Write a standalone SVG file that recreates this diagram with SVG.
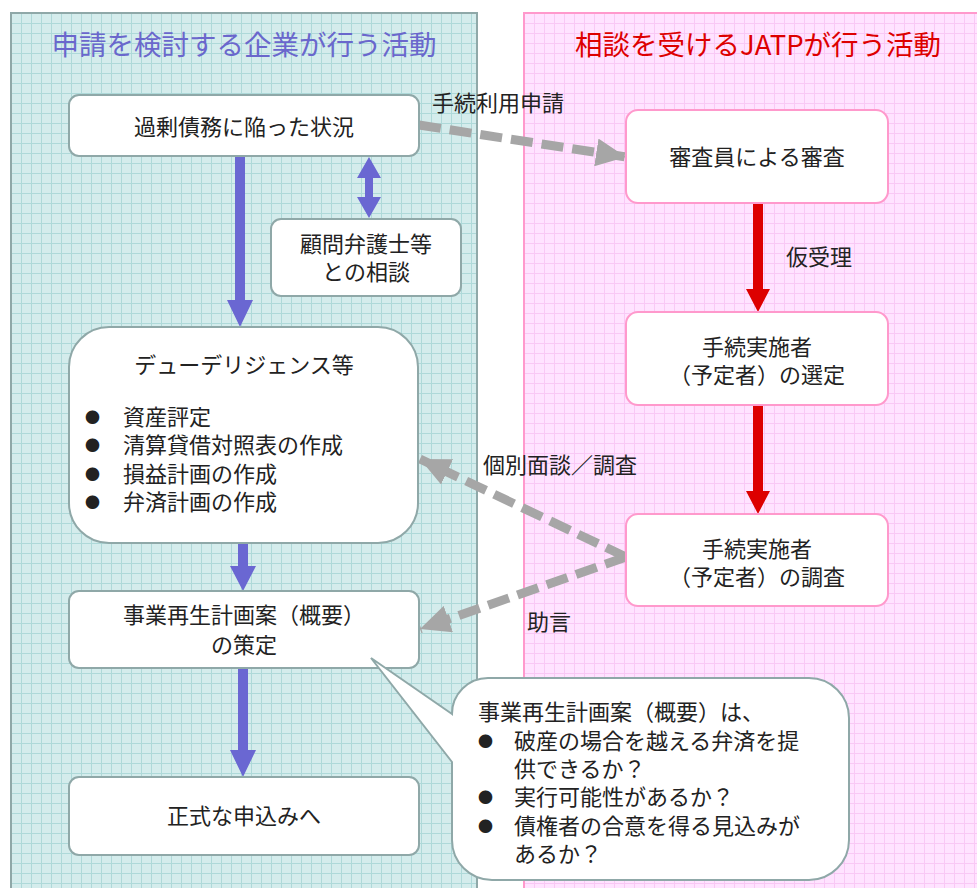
<svg xmlns="http://www.w3.org/2000/svg" width="977" height="888" viewBox="0 0 977 888">
<defs>
<pattern id="gridL" width="10" height="10" patternUnits="userSpaceOnUse" x="11" y="13">
<rect width="10" height="10" fill="#d4ecec"/>
<path d="M0,0.5 H10 M0.5,0 V10" stroke="#aed9d9" stroke-width="1" fill="none"/>
</pattern>
<pattern id="gridR" width="10" height="10" patternUnits="userSpaceOnUse" x="524" y="13">
<rect width="10" height="10" fill="#ffe3ff"/>
<path d="M0,0.5 H10 M0.5,0 V10" stroke="#f9c8f5" stroke-width="1" fill="none"/>
</pattern>
<marker id="grayHead" markerUnits="userSpaceOnUse" markerWidth="32" markerHeight="28" refX="30" refY="14" orient="auto">
<path d="M0,0 L30,14 L0,28 Z" fill="#a6a6a6"/>
</marker>
</defs>
<style>
.panelL{fill:url(#gridL);stroke:#8fa8a8;stroke-width:2}
.panelR{fill:url(#gridR);stroke:#ff99cc;stroke-width:2}
.nodeL{fill:#ffffff;stroke:#8fa8a8;stroke-width:2}
.nodeR{fill:#ffffff;stroke:#ff99cc;stroke-width:2}
text{font-family:"Noto Sans CJK JP","Noto Sans CJK SC",sans-serif;font-size:22px;fill:#222222}
.c{text-anchor:middle}
.b{font-size:15px}
.hL{font-size:27.5px;fill:#6a67cc}
.hR{font-size:27.5px;fill:#dd0000}
.dash{stroke:#a6a6a6;stroke-width:9;stroke-dasharray:22 9;fill:none}
.blue{fill:#6a67d2}
.red{fill:#dd0000}
</style>
<g id="panels">
<rect class="panelL" x="11" y="13" width="466" height="885"/>
<rect class="panelR" x="524" y="13" width="465" height="885"/>
<text class="hL c" x="244" y="55">申請を検討する企業が行う活動</text>
<text class="hR c" x="758" y="55">相談を受けるJATPが行う活動</text>
</g>
<g id="connectors">
<polygon class="blue" points="235,157 245,157 245,300 253,300 240,327 227,300 235,300"/>
<polygon class="blue" points="369,157 381,178 373,178 373,197 381,197 369,218 357,197 365,197 365,178 357,178"/>
<polygon class="blue" points="238,543 248,543 248,566 256,566 243,591 230,566 238,566"/>
<polygon class="blue" points="238,668 248,668 248,750 256,750 243,777 230,750 238,750"/>
<polygon class="red" points="753,203 763,203 763,289 770,289 758,312 746,289 753,289"/>
<polygon class="red" points="753,405 763,405 763,491 770,491 758,514 746,491 753,491"/>
<line class="dash" x1="419" y1="125" x2="626" y2="157" marker-end="url(#grayHead)"/>
<line class="dash" x1="626" y1="557" x2="420" y2="459" marker-end="url(#grayHead)"/>
<line class="dash" x1="626" y1="557" x2="420" y2="629" marker-end="url(#grayHead)"/>
<text x="432" y="111">手続利用申請</text>
<text x="786" y="265">仮受理</text>
<text x="483" y="473">個別面談／調査</text>
<text x="527" y="630">助言</text>
</g>
<g id="n1">
<rect class="nodeL" x="69" y="95" width="350" height="61" rx="10"/>
<text class="c" x="244" y="135">過剰債務に陥った状況</text>
</g>
<g id="n2">
<rect class="nodeL" x="271" y="219" width="190" height="77" rx="10"/>
<text class="c" x="366" y="252">顧問弁護士等</text>
<text class="c" x="366" y="280">との相談</text>
</g>
<g id="n3">
<rect class="nodeL" x="69" y="327" width="349" height="216" rx="40"/>
<text class="c" x="244" y="373">デューデリジェンス等</text>
<text class="b" x="85" y="423">●</text><text x="123" y="425">資産評定</text>
<text class="b" x="85" y="451">●</text><text x="123" y="453">清算貸借対照表の作成</text>
<text class="b" x="85" y="480">●</text><text x="123" y="482">損益計画の作成</text>
<text class="b" x="85" y="508">●</text><text x="123" y="510">弁済計画の作成</text>
</g>
<g id="n4">
<rect class="nodeL" x="69" y="591" width="350" height="77" rx="10"/>
<text class="c" x="244" y="623">事業再生計画案（概要）</text>
<text class="c" x="244" y="653">の策定</text>
</g>
<g id="n5">
<rect class="nodeL" x="69" y="777" width="350" height="78" rx="10"/>
<text class="c" x="244" y="824">正式な申込みへ</text>
</g>
<g id="r1">
<rect class="nodeR" x="626" y="110" width="262" height="93" rx="12"/>
<text class="c" x="757" y="165">審査員による審査</text>
</g>
<g id="r2">
<rect class="nodeR" x="626" y="312" width="262" height="93" rx="12"/>
<text class="c" x="757" y="355">手続実施者</text>
<text class="c" x="757" y="383">（予定者）の選定</text>
</g>
<g id="r3">
<rect class="nodeR" x="626" y="514" width="262" height="92" rx="12"/>
<text class="c" x="757" y="557">手続実施者</text>
<text class="c" x="757" y="585">（予定者）の調査</text>
</g>
<g id="callout">
<path class="nodeL" d="M452,714 L371,658 L452,762 V840 A40,40 0 0 0 492,880 H809 A40,40 0 0 0 849,840 V718 A40,40 0 0 0 809,678 H488 A36,36 0 0 0 452,714 Z"/>
<text x="478" y="720">事業再生計画案（概要）は、</text>
<text class="b" x="478" y="747">●</text><text x="514" y="749">破産の場合を越える弁済を提</text>
<text x="514" y="777">供できるか？</text>
<text class="b" x="478" y="803">●</text><text x="514" y="805">実行可能性があるか？</text>
<text class="b" x="478" y="832">●</text><text x="514" y="834">債権者の合意を得る見込みが</text>
<text x="514" y="862">あるか？</text>
</g>
</svg>
